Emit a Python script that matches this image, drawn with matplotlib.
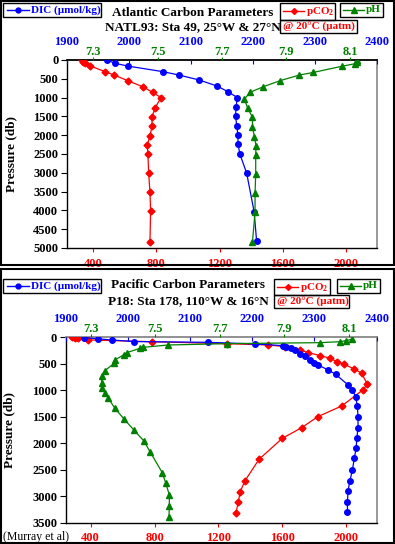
import matplotlib
matplotlib.use('Agg')
import matplotlib.pyplot as plt
from matplotlib.lines import Line2D
from matplotlib.patches import Rectangle

plt.rcParams['font.family'] = ['Liberation Serif', 'DejaVu Serif']
plt.rcParams['font.weight'] = 'bold'
plt.rcParams['mathtext.default'] = 'regular'

# ---- Atlantic, NATL93 Sta 49 ----
atl_dic_p = [0, 88, 160, 310, 400, 530, 690, 845, 1000, 1240, 1490, 1750, 2000, 2235, 2500, 3010, 4035, 4815]
atl_dic = [1965, 1978, 1998, 2055, 2081, 2113, 2142, 2160, 2175, 2173, 2172, 2174, 2176, 2176, 2179, 2190, 2202, 2206]
atl_pco2_p = [5, 58, 93, 154, 310, 400, 550, 710, 860, 1000, 1270, 1510, 1755, 2020, 2260, 2510, 3015, 3520, 4015, 4830]
atl_pco2 = [327, 333, 347, 379, 474, 533, 618, 713, 776, 829, 792, 772, 772, 759, 742, 746, 751, 759, 763, 759]
atl_ph_p = [0, 53, 101, 168, 330, 400, 550, 710, 860, 1040, 1285, 1525, 1790, 2040, 2280, 2525, 3040, 3530, 4035, 4830]
atl_ph = [8.123, 8.121, 8.114, 8.074, 7.986, 7.942, 7.882, 7.830, 7.788, 7.771, 7.781, 7.796, 7.796, 7.802,
          7.807, 7.806, 7.806, 7.804, 7.804, 7.796]

# ---- Pacific, P18 Sta 178 ----
pac_dic_p = [5, 30, 50, 80, 95, 125, 158, 177, 208, 240, 321, 353, 428, 479, 523, 617, 698, 900, 994, 1120,
             1296, 1510, 1717, 1906, 2095, 2283, 2504, 2706, 2894, 3102, 3297]
pac_dic = [1929, 1953, 1974, 2010, 2129, 2204, 2250, 2255, 2263, 2269, 2277, 2285, 2293, 2300, 2306, 2322, 2334,
           2354, 2361, 2366, 2369, 2370, 2370, 2368, 2367, 2364, 2361, 2357, 2354, 2353, 2353]
pac_pco2_p = [0, 10, 20, 50, 83, 120, 145, 177, 240, 290, 345, 396, 460, 509, 598, 679, 887, 994, 1296, 1498,
              1706, 1906, 2302, 2706, 2919, 3114, 3321]
pac_pco2 = [281, 302, 322, 385, 782, 1252, 1513, 1618, 1712, 1764, 1837, 1900, 1942, 1987, 2052, 2098, 2133,
            2105, 1973, 1823, 1722, 1601, 1455, 1367, 1336, 1325, 1309]
pac_ph_p = [38, 64, 83, 101, 120, 145, 189, 208, 290, 330, 428, 491, 630, 724, 856, 951, 1045, 1151, 1340, 1547,
            1749, 1957, 2159, 2555, 2755, 2976, 3178, 3385]
pac_ph = [8.108, 8.090, 8.072, 8.010, 7.722, 7.540, 7.462, 7.452, 7.411, 7.402, 7.374, 7.372, 7.343, 7.333,
          7.333, 7.333, 7.343, 7.354, 7.374, 7.403, 7.433, 7.464, 7.483, 7.521, 7.532, 7.543, 7.543, 7.542]

dic_ticks = [1900, 2000, 2100, 2200, 2300, 2400]
ph_ticks = [7.3, 7.5, 7.7, 7.9, 8.1]
pco2_ticks = [400, 800, 1200, 1600, 2000]

BLUE = '#0000ff'
RED = '#ff0000'
GREEN = '#008000'

W, H = 395, 544
fig = plt.figure(figsize=(W / 100, H / 100), dpi=100)


def fx(x):
    return x / W


def fy(y):
    return 1 - y / H


def rect(x0, y0, x1, y1):
    return [fx(x0), fy(y1), (x1 - x0) / W, (y1 - y0) / H]


def fig_box(x0, y0, x1, y1, lw=1.0, ec='black'):
    fig.add_artist(Rectangle((fx(x0), fy(y1)), (x1 - x0) / W, (y1 - y0) / H, transform=fig.transFigure,
                             fill=False, ec=ec, lw=lw))


def leg_sample(x0, x1, y, color, marker, ms):
    fig.add_artist(Line2D([fx(x0), fx(x1)], [fy(y), fy(y)], transform=fig.transFigure, color=color, lw=1))
    fig.add_artist(Line2D([fx((x0 + x1) / 2)], [fy(y)], transform=fig.transFigure, color=color,
                          marker=marker, ms=ms, lw=0))


def panel(pos, pmax, pco2_lim, ph_lim, dic_p, dic, pco2_p, pco2, ph_p, ph, top_col):
    ax = fig.add_axes(pos)
    ax.plot(pco2, pco2_p, color=RED, lw=0.9, marker='D', ms=3.5, zorder=3)
    ax.set_xlim(pco2_lim)
    ax.set_ylim(pmax, 0)
    ax.set_yticks(range(0, pmax + 1, 500))
    ax.set_xticks(pco2_ticks)
    ax.tick_params(axis='x', colors=RED, length=3, pad=4, labelsize=9)
    ax.tick_params(axis='y', length=4, pad=2, labelsize=9)
    ax.set_ylabel('Pressure (db)', fontsize=9.5, fontweight='bold')
    ax.yaxis.set_label_coords(-0.16, 0.5)
    for s in ['left', 'bottom']:
        ax.spines[s].set_linewidth(1.0)
    ax.spines['top'].set_color(top_col)
    ax.spines['top'].set_linewidth(1.3)
    ax.spines['right'].set_color('#888888')
    ax.spines['right'].set_linewidth(1.2)

    ax_dic = ax.twiny()
    ax_dic.plot(dic, dic_p, color=BLUE, lw=0.9, marker='o', ms=4, zorder=3)
    ax_dic.set_xlim(1900, 2400)
    ax_dic.set_xticks(dic_ticks)
    ax_dic.tick_params(axis='x', colors=BLUE, direction='in', length=3, pad=8.5, labelsize=9)
    for s in ax_dic.spines.values():
        s.set_visible(False)

    ax_ph = ax.twiny()
    ax_ph.plot(ph, ph_p, color=GREEN, lw=0.9, marker='^', ms=5, zorder=3)
    ax_ph.set_xlim(ph_lim)
    ax_ph.set_xticks(ph_ticks)
    ax_ph.set_xticklabels([f'{v:.1f}' for v in ph_ticks])
    ax_ph.tick_params(axis='x', colors=GREEN, direction='out', length=2, pad=-0.5, labelsize=9)
    for s in ax_ph.spines.values():
        s.set_visible(False)
    return ax


# top panel: Atlantic
panel(rect(66.7, 60, 377, 248), 5000, (232, 2196), (7.217, 8.184),
      atl_dic_p, atl_dic, atl_pco2_p, atl_pco2, atl_ph_p, atl_ph, 'black')
fig.text(fx(193), fy(13), 'Atlantic Carbon Parameters', ha='center', va='center', fontsize=9.5)
fig.text(fx(193), fy(27), 'NATL93: Sta 49, 25°W & 27°N', ha='center', va='center', fontsize=9.5)

# bottom panel: Pacific
panel(rect(65.5, 337.3, 376.7, 522.7), 3500, (242, 2192), (7.221, 8.186),
      pac_dic_p, pac_dic, pac_pco2_p, pac_pco2, pac_ph_p, pac_ph, '#888888')
fig.text(fx(188), fy(285), 'Pacific Carbon Parameters', ha='center', va='center', fontsize=9.5)
fig.text(fx(188), fy(301), 'P18: Sta 178, 110°W & 16°N', ha='center', va='center', fontsize=9.5)

# legends (top panel)
fig_box(3, 3, 101, 17)
leg_sample(7, 29, 10, BLUE, 'o', 3.5)
fig.text(fx(31), fy(10), 'DIC (µmol/kg)', color=BLUE, fontsize=8, va='center')
fig_box(280, 3, 335, 20)
leg_sample(283, 304, 11, RED, 'D', 3)
fig.text(fx(306), fy(11), 'pCO$_2$', color=RED, fontsize=8, va='center')
fig_box(280, 20, 357, 33)
fig.text(fx(283), fy(26.5), '@ 20°C (µatm)', color=RED, fontsize=8, va='center')
fig_box(340, 3, 383, 17)
leg_sample(343, 364, 10, GREEN, '^', 4)
fig.text(fx(366), fy(10), 'pH', color=GREEN, fontsize=8, va='center')

# legends (bottom panel)
fig_box(3, 279, 101, 293)
leg_sample(7, 29, 286, BLUE, 'o', 3.5)
fig.text(fx(31), fy(286), 'DIC (µmol/kg)', color=BLUE, fontsize=8, va='center')
fig_box(274, 279, 330, 295)
leg_sample(277, 298, 287, RED, 'D', 3)
fig.text(fx(300), fy(287), 'pCO$_2$', color=RED, fontsize=8, va='center')
fig_box(274, 295, 349, 308)
fig.text(fx(277), fy(301.5), '@ 20°C (µatm)', color=RED, fontsize=8, va='center')
fig_box(337, 279, 380, 293)
leg_sample(340, 361, 286, GREEN, '^', 4)
fig.text(fx(363), fy(286), 'pH', color=GREEN, fontsize=8, va='center')

fig.text(fx(3), fy(537), '(Murray et al)', fontsize=8.5, fontweight='normal', va='center')

# panel frames
fig_box(1, 1, 394, 265, lw=1.5)
fig_box(1, 269, 394, 543, lw=1.5)

fig.savefig('out.png', dpi=100)
